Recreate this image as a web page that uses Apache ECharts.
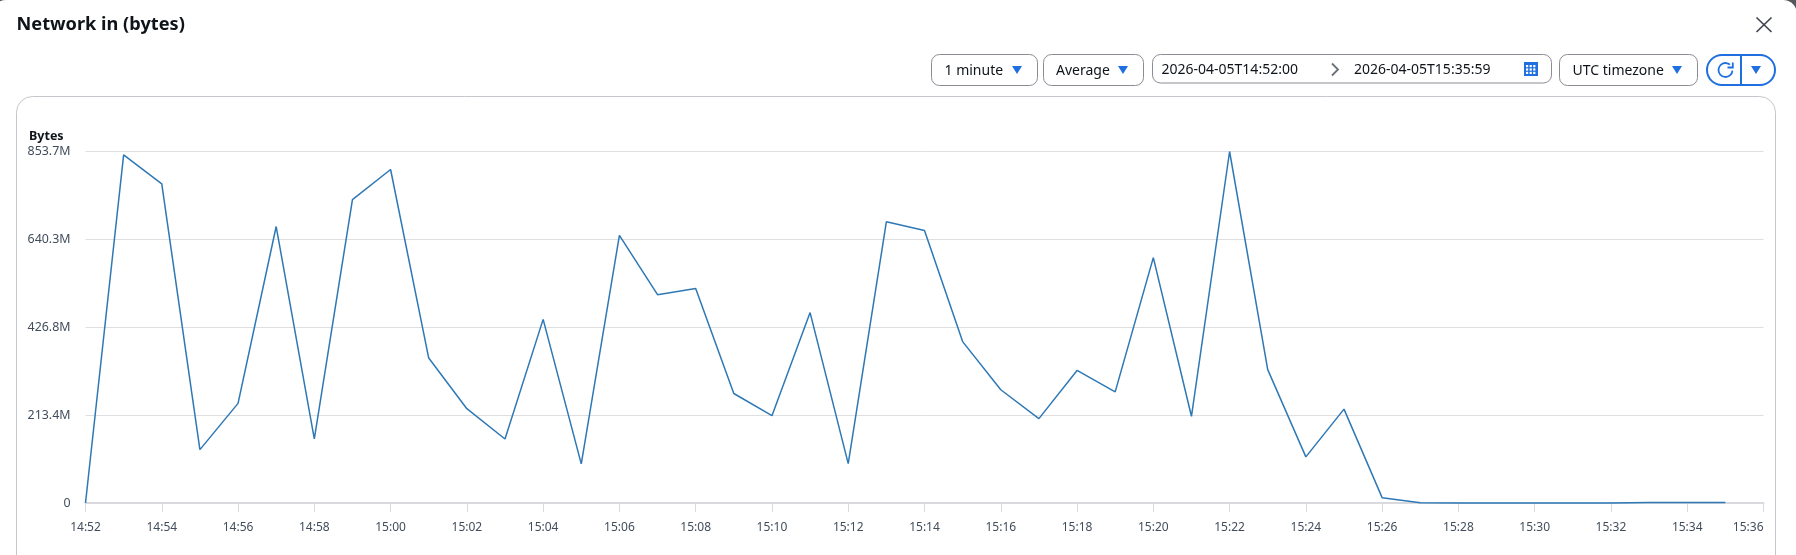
<!DOCTYPE html>
<html>
<head>
<meta charset="utf-8">
<title>Network in (bytes)</title>
<script src="https://cdn.jsdelivr.net/npm/echarts@6/dist/echarts.min.js"></script>
<style>
html,body{margin:0;padding:0;background:#fff;overflow:hidden}
#chart{width:1796px;height:555px}
</style>
</head>
<body>
<div id="chart"></div>
<script>
var minutes = ['14:52','14:53','14:54','14:55','14:56','14:57','14:58','14:59','15:00','15:01','15:02','15:03','15:04','15:05','15:06','15:07','15:08','15:09','15:10','15:11','15:12','15:13','15:14','15:15','15:16','15:17','15:18','15:19','15:20','15:21','15:22','15:23','15:24','15:25','15:26','15:27','15:28','15:29','15:30','15:31','15:32','15:33','15:34','15:35','15:36'];
var networkInMB = [0,845.6,775,129.6,242,671.5,155.5,737,810,352,229,155.5,446,95,650,506,521,266,212,462.5,95.6,683,662,392,275,205,322,270,596,210.6,853.7,324,112,228,13,0.4,0.2,0.2,0.2,0.2,0.3,1,1.5,1.2,null];
var yTickLabels = ['0','213.4M','426.8M','640.3M','853.7M'];
var yMax = 853.7;
var titleText = 'Network in (bytes)';
var unitText = 'Bytes';
var startTime = '2026-04-05T14:52:00';
var endTime = '2026-04-05T15:35:59';

var FONT = '"Noto Sans","Open Sans",sans-serif';
var BLUE = '#1f6fe0';
var INK = '#0f141a';

function box(x,y,w,h,r,stroke,lw,fill){
  return {type:'rect',silent:true,shape:{x:x,y:y,width:w,height:h,r:r},style:{fill:fill||'none',stroke:stroke,lineWidth:lw}};
}
function label(text,x,y,size,weight,color,align){
  return {type:'text',silent:true,x:x,y:y,style:{text:text,fill:color||INK,font:(weight||'normal')+' '+size+'px '+FONT,textAlign:align||'left',textVerticalAlign:'middle'}};
}
function tri(x,y,w,h){
  return {type:'polygon',silent:true,shape:{points:[[x,y],[x+w,y],[x+w/2,y+h]]},style:{fill:BLUE}};
}
function seg(x1,y1,x2,y2,color,lw){
  return {type:'line',silent:true,shape:{x1:x1,y1:y1,x2:x2,y2:y2},style:{stroke:color,lineWidth:lw}};
}
var G = [];
// window corners
G.push({type:'rect',silent:true,z:-5,shape:{x:1770,y:0,width:26,height:26},style:{fill:'#55575d'}});
G.push({type:'rect',silent:true,z:-5,shape:{x:0,y:0,width:6,height:6},style:{fill:'#55575d'}});
G.push({type:'rect',silent:true,z:-4,shape:{x:-8,y:0,width:1805,height:600,r:[14,14,0,0]},style:{fill:'#fff'}});
// card
G.push(Object.assign(box(16.5,96.5,1759,520,16,'#c6c6cd',1,'#fff'),{z:-3}));
// titles
G.push(label(titleText,16.5,24.5,18.2,'bold',INK));
G.push(label(unitText,29,136.5,12.5,'bold',INK));
// close
G.push(seg(1756.5,17.5,1771.5,32,'#424650',1.7));
G.push(seg(1771.5,17.5,1756.5,32,'#424650',1.7));
// period
G.push(box(931.5,54.5,106,31,8,'#8c8c94',1));
G.push(label('1 minute',944.5,71.5,14,'normal',INK));
G.push(tri(1012,66,10,8));
// statistic
G.push(box(1043.5,54.5,100,31,8,'#8c8c94',1));
G.push(label('Average',1056,71.5,14,'normal',INK));
G.push(tri(1118,66,10,8));
// date range
G.push(box(1152.5,54.5,399,28.5,8,'#8c8c94',1));
G.push(label(startTime,1161.5,70,14,'normal',INK));
G.push(label(endTime,1354,70,14,'normal',INK));
G.push({type:'polyline',silent:true,shape:{points:[[1332,63.5],[1338,69.5],[1332,75.5]]},style:{fill:'none',stroke:'#6b6f78',lineWidth:1.8}});
// calendar icon
G.push({type:'rect',silent:true,shape:{x:1524,y:62,width:14,height:14},style:{fill:BLUE}});
for (var r=0;r<3;r++){for (var c=0;c<3;c++){
  G.push({type:'rect',silent:true,shape:{x:1526+c*3.6,y:65+r*3.4,width:2.2,height:2.2},style:{fill:'#fff'}});
}}
// timezone
G.push(box(1559.5,54.5,138,31,8,'#8c8c94',1));
G.push(label('UTC timezone',1572.5,71.5,14,'normal',INK));
G.push(tri(1672,66,10,8));
// refresh
G.push(box(1707,55,68,30,15,BLUE,2));
G.push(seg(1741,55,1741,85,BLUE,2));
G.push({type:'arc',silent:true,shape:{cx:1725.5,cy:70,r:7,startAngle:Math.PI*0.03,endAngle:Math.PI*1.72,clockwise:true},style:{fill:'none',stroke:BLUE,lineWidth:1.8}});
G.push({type:'polyline',silent:true,shape:{points:[[1732.8,62.5],[1732.8,67.5],[1727.5,67.5]]},style:{fill:'none',stroke:BLUE,lineWidth:1.8}});
G.push(tri(1751,66,10,8));

var chart = echarts.init(document.getElementById('chart'),null,{renderer:'canvas',width:1796,height:555});
chart.setOption({
  animation:false,
  backgroundColor:'#fff',
  textStyle:{fontFamily:FONT},
  graphic:G,
  grid:{left:85.5,right:32.5,top:151.5,bottom:52,containLabel:false},
  xAxis:{
    type:'category',
    data:minutes,
    boundaryGap:false,
    axisLine:{show:true,lineStyle:{color:'#d9d9de',width:2}},
    axisTick:{show:true,alignWithLabel:true,interval:1,length:9,lineStyle:{color:'#d9d9de',width:1}},
    axisLabel:{show:true,interval:1,color:'#414d5c',fontSize:12,fontFamily:FONT,margin:19,alignMaxLabel:'right',hideOverlap:false},
    splitLine:{show:false}
  },
  yAxis:{
    type:'value',
    min:0,
    max:yMax,
    interval:yMax/4,
    axisLine:{show:false},
    axisTick:{show:false},
    axisLabel:{show:true,color:'#414d5c',fontSize:12.4,fontFamily:FONT,margin:15,padding:[4,0,0,0],
      formatter:function(v){return yTickLabels[Math.round(v/(yMax/4))];}},
    splitLine:{show:true,lineStyle:{color:'#dfdfe2',width:1}}
  },
  series:[{
    type:'line',
    data:networkInMB,
    symbol:'none',
    showSymbol:false,
    smooth:false,
    clip:false,
    connectNulls:false,
    lineStyle:{color:'#2e78b5',width:1.5},
    z:5
  }]
});
</script>
</body>
</html>
